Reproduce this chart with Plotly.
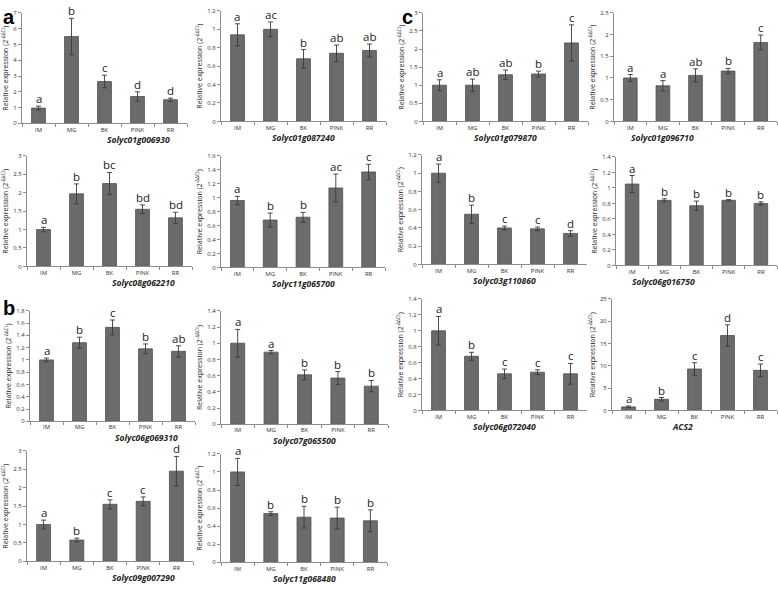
import plotly.graph_objects as go

categories = ["IM", "MG", "BK", "PINK", "RR"]

genes = ["Solyc01g006930", "Solyc01g087240", "Solyc01g079870", "Solyc01g096710",
         "Solyc08g062210", "Solyc11g065700", "Solyc03g110860", "Solyc06g016750",
         "Solyc06g069310", "Solyc07g065500", "Solyc06g072040", "ACS2",
         "Solyc09g007290", "Solyc11g068480"]

solyc01g006930_mean = [0.97, 5.5, 2.65, 1.7, 1.5]
solyc01g006930_err = [0.12, 1.15, 0.4, 0.3, 0.1]
solyc01g006930_sig = ["a", "b", "c", "d", "d"]

solyc01g087240_mean = [0.94, 1.0, 0.68, 0.74, 0.77]
solyc01g087240_err = [0.12, 0.08, 0.1, 0.09, 0.07]
solyc01g087240_sig = ["a", "ac", "b", "ab", "ab"]

solyc01g079870_mean = [1.0, 1.0, 1.29, 1.31, 2.17]
solyc01g079870_err = [0.15, 0.17, 0.13, 0.08, 0.5]
solyc01g079870_sig = ["a", "ab", "ab", "b", "c"]

solyc01g096710_mean = [1.0, 0.82, 1.06, 1.16, 1.82]
solyc01g096710_err = [0.08, 0.12, 0.15, 0.06, 0.17]
solyc01g096710_sig = ["a", "a", "ab", "b", "c"]

solyc08g062210_mean = [1.0, 1.97, 2.25, 1.55, 1.32]
solyc08g062210_err = [0.06, 0.27, 0.3, 0.12, 0.15]
solyc08g062210_sig = ["a", "b", "bc", "bd", "bd"]

solyc11g065700_mean = [0.96, 0.68, 0.72, 1.14, 1.37]
solyc11g065700_err = [0.06, 0.1, 0.07, 0.2, 0.11]
solyc11g065700_sig = ["a", "b", "b", "ac", "c"]

solyc03g110860_mean = [1.0, 0.55, 0.4, 0.39, 0.34]
solyc03g110860_err = [0.1, 0.1, 0.02, 0.02, 0.03]
solyc03g110860_sig = ["a", "b", "c", "c", "d"]

solyc06g016750_mean = [1.05, 0.84, 0.77, 0.84, 0.8]
solyc06g016750_err = [0.11, 0.02, 0.06, 0.01, 0.02]
solyc06g016750_sig = ["a", "b", "b", "b", "b"]

solyc06g069310_mean = [1.0, 1.28, 1.53, 1.18, 1.14]
solyc06g069310_err = [0.03, 0.09, 0.12, 0.08, 0.09]
solyc06g069310_sig = ["a", "b", "c", "b", "ab"]

solyc07g065500_mean = [1.0, 0.89, 0.61, 0.57, 0.47]
solyc07g065500_err = [0.17, 0.02, 0.06, 0.08, 0.07]
solyc07g065500_sig = ["a", "a", "b", "b", "b"]

solyc06g072040_mean = [1.0, 0.68, 0.46, 0.48, 0.46]
solyc06g072040_err = [0.18, 0.05, 0.06, 0.03, 0.13]
solyc06g072040_sig = ["a", "b", "c", "c", "c"]

acs2_mean = [0.8, 2.5, 9.3, 16.8, 9.0]
acs2_err = [0.2, 0.4, 1.4, 2.4, 1.4]
acs2_sig = ["a", "b", "c", "d", "c"]

solyc09g007290_mean = [1.0, 0.58, 1.55, 1.63, 2.45]
solyc09g007290_err = [0.12, 0.05, 0.12, 0.12, 0.4]
solyc09g007290_sig = ["a", "b", "c", "c", "d"]

solyc11g068480_mean = [1.0, 0.54, 0.5, 0.49, 0.46]
solyc11g068480_err = [0.15, 0.02, 0.12, 0.12, 0.12]
solyc11g068480_sig = ["a", "b", "b", "b", "b"]

y_max = [7, 1.2, 3, 2.5, 3, 1.6, 1.2, 1.4, 1.8, 1.4, 1.4, 25, 3, 1.2]
y_dtick = [1, 0.2, 0.5, 0.5, 0.5, 0.2, 0.2, 0.2, 0.2, 0.2, 0.2, 5, 0.5, 0.2]

means = [solyc01g006930_mean, solyc01g087240_mean, solyc01g079870_mean, solyc01g096710_mean,
         solyc08g062210_mean, solyc11g065700_mean, solyc03g110860_mean, solyc06g016750_mean,
         solyc06g069310_mean, solyc07g065500_mean, solyc06g072040_mean, acs2_mean,
         solyc09g007290_mean, solyc11g068480_mean]
errs = [solyc01g006930_err, solyc01g087240_err, solyc01g079870_err, solyc01g096710_err,
        solyc08g062210_err, solyc11g065700_err, solyc03g110860_err, solyc06g016750_err,
        solyc06g069310_err, solyc07g065500_err, solyc06g072040_err, acs2_err,
        solyc09g007290_err, solyc11g068480_err]
sigs = [solyc01g006930_sig, solyc01g087240_sig, solyc01g079870_sig, solyc01g096710_sig,
        solyc08g062210_sig, solyc11g065700_sig, solyc03g110860_sig, solyc06g016750_sig,
        solyc06g069310_sig, solyc07g065500_sig, solyc06g072040_sig, acs2_sig,
        solyc09g007290_sig, solyc11g068480_sig]

# panel placement in pixels: x0, x1, y_top, y_bottom
W, H = 778, 593
boxes = [(22, 187, 9, 121), (221, 386, 7, 119), (423, 588, 9, 119), (614, 777, 9, 119),
         (27, 192, 154, 266), (221, 385, 154, 267), (422, 587, 153, 264), (616, 777, 155, 265),
         (30, 195, 311, 423), (221, 388, 311, 426), (422, 587, 299, 412), (612, 777, 299, 412),
         (27, 193, 453, 565), (221, 387, 456, 566)]

FONT = "Open Sans, Lato, sans-serif"
fig = go.Figure()
annotations = []
layout_axes = {}

for i, (gene, m, e, s, box) in enumerate(zip(genes, means, errs, sigs, boxes)):
    n = i + 1
    xa = "x" if n == 1 else f"x{n}"
    ya = "y" if n == 1 else f"y{n}"
    x0, x1, yt, yb = box
    fig.add_trace(go.Bar(
        x=categories, y=m, xaxis=xa, yaxis=ya, width=0.42,
        marker=dict(color="#6b6b6b", line=dict(color="#4f4f4f", width=0.8)),
        error_y=dict(type="data", array=e, visible=True, color="#3a3a3a", thickness=0.9, width=2.5),
        showlegend=False, hoverinfo="x+y"))
    for c, v, ev, lab in zip(categories, m, e, s):
        annotations.append(dict(x=c, y=v + ev, xref=xa, yref=ya, text=lab, showarrow=False,
                                yanchor="bottom", yshift=-2,
                                font=dict(family=FONT, size=11.5, color="#222")))
    annotations.append(dict(x=(x0 + x1) / 2 / W, y=1 - (yb + 16) / H, xref="paper", yref="paper",
                            text=f"<b><i>{gene}</i></b>", showarrow=False, yanchor="middle",
                            font=dict(family=FONT, size=8.5, color="#222")))
    layout_axes["xaxis" if n == 1 else f"xaxis{n}"] = dict(
        domain=[x0 / W, x1 / W], anchor=ya, type="category", showline=True,
        linecolor="#8c8c8c", linewidth=1, ticks="outside", tickson="boundaries", ticklen=3,
        tickcolor="#8c8c8c", tickfont=dict(family=FONT, size=6, color="#333"), showgrid=False)
    layout_axes["yaxis" if n == 1 else f"yaxis{n}"] = dict(
        domain=[1 - yb / H, 1 - yt / H], anchor=xa, range=[0, y_max[i]], dtick=y_dtick[i],
        showline=True, linecolor="#8c8c8c", linewidth=1, ticks="outside", ticklen=3,
        tickcolor="#8c8c8c", tickfont=dict(family=FONT, size=6, color="#333"), showgrid=False,
        zeroline=False,
        title=dict(text="Relative expression (2<sup>-ΔΔCt</sup>)", standoff=3,
                   font=dict(family=FONT, size=7, color="#222")))

for lab, px, py in [("a", 1, 0), ("b", 1, 295), ("c", 400, 0)]:
    annotations.append(dict(x=px / W, y=1 - py / H, xref="paper", yref="paper", text=f"<b>{lab}</b>",
                            showarrow=False, xanchor="left", yanchor="top",
                            font=dict(family="Liberation Sans, Arial", size=20, color="#000")))

fig.update_layout(width=W, height=H, margin=dict(l=0, r=0, t=0, b=0),
                  paper_bgcolor="white", plot_bgcolor="white", bargap=0.58,
                  annotations=annotations, **layout_axes)
fig.write_html("out.html", config={"displayModeBar": False},
               post_script="document.body.style.margin='0';document.body.style.overflow='hidden';")
